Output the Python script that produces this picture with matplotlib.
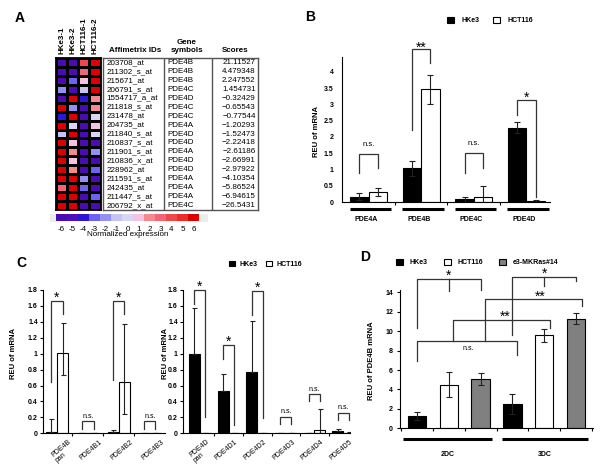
import numpy as np
import matplotlib
matplotlib.use('Agg')
import matplotlib.pyplot as plt
from matplotlib.colors import ListedColormap, BoundaryNorm
from matplotlib.transforms import blended_transform_factory

plt.rcParams['font.family'] = ['Liberation Sans', 'DejaVu Sans']
plt.rcParams['axes.linewidth'] = 0.8

# ---------------- panel A ----------------
samples = ['HKe3-1', 'HKe3-2', 'HCT116-1', 'HCT116-2']
probe_ids = ['203708_at', '211302_s_at', '215671_at', '206791_s_at', '1554717_a_at',
             '211818_s_at', '231478_at', '204735_at', '211840_s_at', '210837_s_at',
             '211901_s_at', '210836_x_at', '228962_at', '211591_s_at', '242435_at',
             '211447_s_at', '206792_x_at']
gene_symbols = ['PDE4B', 'PDE4B', 'PDE4B', 'PDE4C', 'PDE4D', 'PDE4C', 'PDE4C', 'PDE4A',
                'PDE4D', 'PDE4D', 'PDE4A', 'PDE4D', 'PDE4D', 'PDE4A', 'PDE4A', 'PDE4A',
                'PDE4C']
scores = [21.11527, 4.479348, 2.247552, 1.454731, -0.32429, -0.65543, -0.77544,
          -1.20293, -1.52473, -2.22418, -2.61186, -2.66991, -2.97922, -4.10354,
          -5.86524, -6.94615, -26.5431]
expression = [
    [-6, -6, 4, 6],
    [-6, -6, 3, 6],
    [-6, -3, 1, 6],
    [-2, -6, -1, 6],
    [-6, 6, -4, 2],
    [6, -2, -6, 2],
    [-4, 6, -6, 0],
    [6, 0, -6, 1],
    [-1, 6, -6, 0],
    [6, 1, -6, -6],
    [6, 2, -6, -2],
    [6, 1, -6, -6],
    [6, 2, -6, -3],
    [6, 6, -2, -6],
    [3, 6, -3, -6],
    [6, 6, -6, -3],
    [6, 6, -6, -6],
]
scale_values = list(range(-6, 7))
scale_colors = ['#4a0cb2', '#4c10bc', '#2c16d8', '#6c64ee', '#9290f2', '#c6c4f2',
                '#d8d6f4', '#f6c2e2', '#f48a8e', '#f26478', '#f04848', '#ec2c2c',
                '#dc0000']

# ---------------- panel B ----------------
b_genes = ['PDE4A', 'PDE4B', 'PDE4C', 'PDE4D']
b_hke3 = [0.17, 1.04, 0.09, 2.29]
b_hke3_err = [0.11, 0.23, 0.08, 0.18]
b_hct = [0.31, 3.46, 0.17, 0.03]
b_hct_err = [0.12, 0.45, 0.33, 0.03]
b_sig = ['n.s.', '**', 'n.s.', '*']
b_brk_top = [1.48, 4.68, 1.50, 3.13]
b_brk_left = [0.89, 2.21, 0.91, 2.67]
b_brk_right = [1.04, 4.26, 1.04, 0.17]

# ---------------- panel C ----------------
c4b_labels = ['PDE4B\npan', 'PDE4B1', 'PDE4B2', 'PDE4B3']
c4b_hke3 = [0.02, 0.004, 0.02, 0.004]
c4b_hke3_err = [0.16, 0.0, 0.02, 0.0]
c4b_hct = [1.01, 0.004, 0.65, 0.004]
c4b_hct_lo = [0.28, 0.0, 0.41, 0.0]
c4b_hct_hi = [0.38, 0.0, 0.72, 0.0]
c4b_sig = ['*', 'n.s.', '*', 'n.s.']
c4b_brk_top = [1.66, 0.155, 1.66, 0.155]
c4b_brk_left = [0.65, 0.06, 0.67, 0.06]
c4b_brk_right = [1.50, 0.06, 1.50, 0.06]

c4d_labels = ['PDE4D\npan', 'PDE4D1', 'PDE4D2', 'PDE4D3', 'PDE4D4', 'PDE4D5']
c4d_hke3 = [1.00, 0.53, 0.77, 0.006, 0.006, 0.03]
c4d_hke3_err = [0.58, 0.22, 0.64, 0.0, 0.0, 0.03]
c4d_hct = [0.008, 0.004, 0.004, 0.004, 0.04, 0.01]
c4d_hct_lo = [0.0, 0.0, 0.0, 0.0, 0.03, 0.005]
c4d_hct_hi = [0.0, 0.0, 0.0, 0.0, 0.27, 0.005]
c4d_sig = ['*', '*', '*', 'n.s.', 'n.s.', 'n.s.']
c4d_brk_top = [1.80, 1.11, 1.79, 0.21, 0.49, 0.26]
c4d_brk_left = [1.62, 0.93, 1.48, 0.12, 0.40, 0.17]
c4d_brk_right = [0.21, 0.10, 0.19, 0.12, 0.40, 0.17]

# ---------------- panel D ----------------
d_groups = ['2DC', '3DC']
d_lines = ['HKe3', 'HCT116', 'e3-MKRas#14']
d_values = [1.3, 4.48, 5.1, 2.52, 9.59, 11.3]
d_errors = [0.4, 1.3, 0.6, 1.0, 0.65, 0.6]
# brackets: x_left, x_right, y_top, y_left_end, y_right_end, x_mid, y_mid_end, text, text_x
d_brackets = [
    (0.0, 2.0, 15.4, 10.3, 14.3, 1.0, 14.1, '*', 1.0),
    (3.0, 5.0, 15.6, 9.65, 15.2, 4.0, 14.7, '*', 4.0),
    (2.14, 5.2, 13.3, 9.0, 12.6, None, None, '**', 3.86),
    (1.14, 4.18, 11.2, 9.0, 10.3, None, None, '**', 2.76),
    (0.0, 3.15, 9.0, 6.9, 7.6, None, None, 'n.s.', 1.6),
]

W, H = 600, 470


def box(l, t, r, b):
    return [l / W, 1 - b / H, (r - l) / W, (b - t) / H]


def fmt(v):
    return '{:g}'.format(round(v, 2))


def bracket(ax, x1, x2, top, y1, y2, text, star_fs, ns_fs, star_off, ns_off):
    ax.plot([x1, x1, x2, x2], [y1, top, top, y2], color='#333333', lw=0.9,
            clip_on=False, solid_joinstyle='miter')
    if text == 'n.s.':
        ax.annotate(text, ((x1 + x2) / 2, top), xytext=(0, ns_off),
                    textcoords='offset points', ha='center', va='baseline',
                    fontsize=ns_fs, annotation_clip=False)
    else:
        ax.annotate(text, ((x1 + x2) / 2, top), xytext=(0, star_off),
                    textcoords='offset points', ha='center', va='baseline',
                    fontsize=star_fs, annotation_clip=False)


fig = plt.figure(figsize=(6, 4.7), dpi=100)

# ================= A =================
cmap = ListedColormap(scale_colors)
norm = BoundaryNorm(np.arange(-6.5, 7.5, 1), cmap.N)

axh = fig.add_axes(box(56, 58, 100.5, 210))
axh.pcolormesh(np.array(expression), cmap=cmap, norm=norm, edgecolors='k', linewidth=0.8)
axh.set_ylim(len(probe_ids), 0)
axh.set_xlim(0, len(samples))
axh.xaxis.tick_top()
axh.set_xticks(np.arange(len(samples)) + 0.5)
axh.set_xticklabels(samples, rotation=90, fontsize=5.8, weight='bold')
axh.tick_params(length=0, pad=3)
axh.set_yticks([])
for s in axh.spines.values():
    s.set_linewidth(1.3)

tb = fig.add_axes(box(103, 58, 258, 210))
tb.set_xlim(0, 1)
tb.set_ylim(len(probe_ids), 0)
tb.set_xticks([])
tb.set_yticks([])
for s in tb.spines.values():
    s.set_linewidth(1.0)
    s.set_color('#555555')
for xv in (0.394, 0.703):
    tb.axvline(xv, color='#555555', lw=1.0)
for i, (pid, sym, sc) in enumerate(zip(probe_ids, gene_symbols, scores)):
    tb.text(0.02, i + 0.5, pid, ha='left', va='center', fontsize=5.8)
    tb.text(0.415, i + 0.5, sym, ha='left', va='center', fontsize=5.8)
    tb.text(0.985, i + 0.5, '{:.7g}'.format(sc).replace('-', '\u2212'),
            ha='right', va='center', fontsize=5.8)
tb.text(0.21, 1.05, 'Affimetrix IDs', transform=tb.transAxes, ha='center',
        va='center', fontsize=5.8, weight='bold')
tb.text(0.54, 1.075, 'Gene\nsymbols', transform=tb.transAxes, ha='center',
        va='center', fontsize=5.8, linespacing=1.3, weight='bold')
tb.text(0.85, 1.05, 'Scores', transform=tb.transAxes, ha='center', va='center',
        fontsize=5.8, weight='bold')

cbg = fig.add_axes(box(50, 214, 208, 221.5))
cbg.set_facecolor('#ececec')
cbg.set_xticks([])
cbg.set_yticks([])
for s in cbg.spines.values():
    s.set_visible(False)
cb = fig.add_axes(box(56, 214, 199, 221.5))
cb.imshow(np.array(scale_values)[None, :], cmap=cmap, norm=norm, aspect='auto')
cb.set_xticks(range(len(scale_values)))
cb.set_xticklabels([str(v) for v in scale_values], fontsize=5.8)
cb.tick_params(length=0, pad=3)
cb.set_yticks([])
for s in cb.spines.values():
    s.set_visible(False)
cb.set_xlabel('Normalized expression', fontsize=5.8, labelpad=-1)

# ================= B =================
axb = fig.add_axes(box(341.7, 42.3, 550, 202.3))
xb = np.arange(len(b_genes))
wb = 0.35
ekw = dict(elinewidth=0.8, ecolor='#222222', capthick=0.8)
hb1 = axb.bar(xb - wb / 2, b_hke3, wb, yerr=b_hke3_err, color='k', edgecolor='k',
              lw=0.8, capsize=2.4, error_kw=ekw)
hb2 = axb.bar(xb + wb / 2, b_hct, wb, yerr=b_hct_err, color='w', edgecolor='k',
              lw=0.8, capsize=2.4, error_kw=ekw)
axb.set_xlim(-0.51, 3.45)
axb.set_ylim(0, 4.9)
axb.spines[['top', 'right']].set_visible(False)
axb.spines['left'].set_bounds(0, 4.46)
yt = np.arange(0, 4.01, 0.5)
axb.set_yticks(yt)
axb.set_yticklabels([fmt(v) for v in yt], fontsize=5, weight='bold')
axb.tick_params(axis='y', length=0, pad=6)
axb.set_xticks([])
axb.set_xticks(xb[:-1] + 0.5, minor=True)
axb.tick_params(axis='x', which='minor', length=2, width=0.8)
axb.set_ylabel('REU of mRNA', fontsize=5.5, weight='bold')
axb.yaxis.set_label_coords(-0.104, 0.44)
trb = blended_transform_factory(axb.transData, axb.transAxes)
for g, name in enumerate(b_genes):
    axb.plot([g - 0.36, g + 0.43], [-0.044, -0.044], transform=trb, color='k', lw=2.2,
             clip_on=False, solid_capstyle='butt')
    axb.text(g - 0.04, -0.11, name, transform=trb, ha='center', va='center',
             fontsize=5, weight='bold')
for g in range(len(b_genes)):
    bracket(axb, g - wb / 2, g + wb / 2, b_brk_top[g], b_brk_left[g], b_brk_right[g],
            b_sig[g], 10, 5.5, -1.5, 6.0)
fig.legend([hb1, hb2], ['HKe3', 'HCT116'], loc='center left',
           bbox_to_anchor=(447 / W, 1 - 20.5 / H), ncol=2, frameon=False,
           prop=dict(size=5, weight='bold'), handlelength=1.05, handleheight=1.05,
           handletextpad=1.0, columnspacing=2.0, borderpad=0, borderaxespad=0)


# ================= C =================
def panel_c(rect, labels, hke3, hke3_err, hct, hct_lo, hct_hi, sig, top, yl, yr,
            xlim, w, dx, ylab_x):
    ax = fig.add_axes(rect)
    x = np.arange(len(labels))
    ekw = dict(elinewidth=0.8, ecolor='#222222', capthick=0.8)
    h1 = ax.bar(x - w / 2, hke3, w, yerr=[np.zeros(len(x)), hke3_err], color='k',
                edgecolor='k', lw=0.8, capsize=1.8, error_kw=ekw)
    h2 = ax.bar(x + w / 2, hct, w, yerr=[hct_lo, hct_hi], color='w', edgecolor='k',
                lw=0.8, capsize=1.8, error_kw=ekw)
    ax.set_xlim(*xlim)
    ax.set_ylim(0, 1.8)
    ax.spines[['top', 'right']].set_visible(False)
    yt = np.arange(0, 1.81, 0.2)
    ax.set_yticks(yt)
    ax.set_yticklabels([fmt(v) for v in yt], fontsize=5, weight='bold')
    ax.tick_params(axis='y', length=2, width=0.8, pad=2)
    ax.set_xticks([])
    ax.set_xticks(x[:-1] + 0.5, minor=True)
    ax.tick_params(axis='x', which='minor', length=2, width=0.8)
    ax.set_ylabel('REU of mRNA', fontsize=5.5, weight='bold')
    ax.yaxis.set_label_coords(ylab_x, 0.56)
    tr = blended_transform_factory(ax.transData, ax.transAxes)
    for g, name in enumerate(labels):
        ax.text(g + dx, -0.035, name, transform=tr, rotation=40, rotation_mode='anchor',
                ha='right', va='top', fontsize=5, multialignment='left', linespacing=1.0)
        bracket(ax, g - w / 2, g + w / 2, top[g], yl[g], yr[g], sig[g], 10, 5, -0.8, 2.4)
    return h1, h2


hc1, hc2 = panel_c(box(43.3, 290, 165.4, 433.3), c4b_labels, c4b_hke3, c4b_hke3_err,
                   c4b_hct, c4b_hct_lo, c4b_hct_hi, c4b_sig, c4b_brk_top,
                   c4b_brk_left, c4b_brk_right, (-0.44, 3.5), 0.36, 0.35, -0.216)
panel_c(box(183.3, 290, 350, 433.3), c4d_labels, c4d_hke3, c4d_hke3_err,
        c4d_hct, c4d_hct_lo, c4d_hct_hi, c4d_sig, c4d_brk_top,
        c4d_brk_left, c4d_brk_right, (-0.58, 5.24), 0.38, 0.21, -0.086)
fig.legend([hc1, hc2], ['HKe3', 'HCT116'], loc='center left',
           bbox_to_anchor=(229 / W, 1 - 264.5 / H), ncol=2, frameon=False,
           prop=dict(size=5, weight='bold'), handlelength=0.85, handleheight=0.85,
           handletextpad=0.7, columnspacing=1.2, borderpad=0, borderaxespad=0)

# ================= D =================
axd = fig.add_axes(box(400, 289.5, 593, 428.3))
xd = np.arange(len(d_values))
d_colors = ['k', 'w', '#808080'] * len(d_groups)
hd = axd.bar(xd, d_values, 0.57, yerr=d_errors, color=d_colors, edgecolor='k', lw=0.8,
             capsize=2.4, error_kw=dict(elinewidth=0.8, ecolor='#222222', capthick=0.8))
axd.set_xlim(-0.53, 5.53)
axd.set_ylim(0, 14.3)
axd.spines[['top', 'right']].set_visible(False)
yt = np.arange(0, 14.1, 2)
axd.set_yticks(yt)
axd.set_yticklabels([fmt(v) for v in yt], fontsize=5, weight='bold')
axd.tick_params(axis='y', length=2, width=0.8, pad=3)
axd.set_xticks([])
axd.set_xticks(np.arange(-0.5, 5.6, 1), minor=True)
axd.tick_params(axis='x', which='minor', length=2, width=0.8)
axd.set_ylabel('REU of PDE4B mRNA', fontsize=5.5, weight='bold')
axd.yaxis.set_label_coords(-0.13, 0.49)
trd = blended_transform_factory(axd.transData, axd.transAxes)
for gi, (a, b) in enumerate([(-0.43, 2.35), (2.66, 5.38)]):
    axd.plot([a, b], [-0.077, -0.077], transform=trd, color='k', lw=2.2,
             clip_on=False, solid_capstyle='butt')
    axd.text((a + b) / 2, -0.19, d_groups[gi], transform=trd, ha='center',
             va='center', fontsize=5, weight='bold')
for x1, x2, top, y1, y2, xm, ym, txt, tx in d_brackets:
    axd.plot([x1, x1, x2, x2], [y1, top, top, y2], color='#333333', lw=0.9,
             clip_on=False)
    if xm is not None:
        axd.plot([xm, xm], [top, ym], color='#333333', lw=0.9, clip_on=False)
    if txt == 'n.s.':
        axd.annotate(txt, (tx, top), xytext=(0, -3), textcoords='offset points',
                     ha='center', va='top', fontsize=5, annotation_clip=False)
    else:
        axd.annotate(txt, (tx, top), xytext=(0, -0.8), textcoords='offset points',
                     ha='center', va='baseline', fontsize=10, annotation_clip=False)
fig.legend([hd[0], hd[1], hd[2]], d_lines, loc='center left',
           bbox_to_anchor=(396 / W, 1 - 262.7 / H), ncol=3, frameon=False,
           prop=dict(size=5, weight='bold'), handlelength=1.0, handleheight=1.0,
           handletextpad=1.0, columnspacing=2.3, borderpad=0, borderaxespad=0)

# panel letters
for lab, x, y in [('A', 15, 22), ('B', 305, 21), ('C', 16, 267), ('D', 360, 261)]:
    fig.text(x / W, 1 - y / H, lab, fontsize=10, weight='bold', ha='left', va='baseline')

fig.savefig('out.png', dpi=100)
